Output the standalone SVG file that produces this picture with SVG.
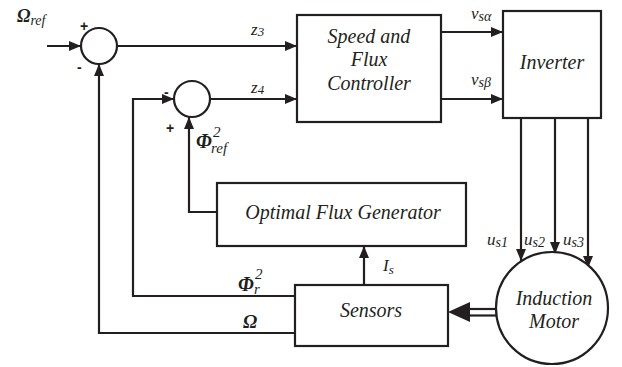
<svg xmlns="http://www.w3.org/2000/svg" width="622" height="367" viewBox="0 0 622 367">
<style>
svg text.s{font-family:"Liberation Serif",serif !important;font-style:italic !important}
svg text.sg{font-family:"Liberation Sans",sans-serif !important;font-style:normal !important}
</style>
<defs>
<marker id="ah" viewBox="0 0 12 10" refX="12" refY="5" markerWidth="12" markerHeight="10" markerUnits="userSpaceOnUse" orient="auto">
<path d="M0,0 L12,5 L0,10 Z" fill="#231f20"/>
</marker>
<marker id="big" viewBox="0 0 22 20" refX="0" refY="10" markerWidth="22" markerHeight="20" markerUnits="userSpaceOnUse" orient="auto">
<path d="M0,10 L22,0 L22,20 Z" fill="#231f20"/>
</marker>
</defs>

<g id="connectors" fill="none" stroke="#231f20" stroke-width="2.2">
<line x1="47" y1="46" x2="81" y2="46" marker-end="url(#ah)"/>
<line x1="117" y1="46" x2="297" y2="46" marker-end="url(#ah)"/>
<line x1="210" y1="99" x2="297" y2="99" marker-end="url(#ah)"/>
<polyline points="295,296 133,296 133,99 174,99" marker-end="url(#ah)"/>
<polyline points="295,333 99,333 99,64" marker-end="url(#ah)"/>
<polyline points="217,212 189,212 189,117" marker-end="url(#ah)"/>
<line x1="364" y1="285" x2="364" y2="246" marker-end="url(#ah)"/>
<line x1="442" y1="32" x2="503" y2="32" marker-end="url(#ah)"/>
<line x1="442" y1="99" x2="503" y2="99" marker-end="url(#ah)"/>
<line x1="521" y1="118" x2="521" y2="261" marker-end="url(#ah)"/>
<line x1="555" y1="118" x2="555" y2="254" marker-end="url(#ah)"/>
<line x1="588" y1="118" x2="588" y2="268" marker-end="url(#ah)"/>
<line x1="468" y1="309" x2="496" y2="309"/>
<line x1="468" y1="315.5" x2="496" y2="315.5"/>
<line x1="448" y1="312" x2="449" y2="312" stroke="none" marker-start="url(#big)"/>
</g>

<g id="sum1">
<circle cx="99" cy="46" r="18" fill="#fff" stroke="#231f20" stroke-width="2.2"/>
<text class="sg" font-family="Liberation Sans" font-weight="bold" font-size="14" fill="#231f20" x="80" y="31">+</text>
<text class="sg" font-family="Liberation Sans" font-weight="bold" font-size="14" fill="#231f20" x="77" y="72">-</text>
</g>
<g id="sum2">
<circle cx="192" cy="99" r="18" fill="#fff" stroke="#231f20" stroke-width="2.2"/>
<text class="sg" font-family="Liberation Sans" font-weight="bold" font-size="14" fill="#231f20" x="164" y="97">-</text>
<text class="sg" font-family="Liberation Sans" font-weight="bold" font-size="14" fill="#231f20" x="166" y="133">+</text>
</g>

<g id="controller">
<rect x="297" y="15" width="144" height="107" fill="#fff" stroke="#231f20" stroke-width="2.2"/>
<text class="s" font-family="Liberation Serif" font-style="italic" font-size="20" fill="#231f20" text-anchor="middle" x="369" y="43">Speed and</text>
<text class="s" font-family="Liberation Serif" font-style="italic" font-size="20" fill="#231f20" text-anchor="middle" x="369" y="66">Flux</text>
<text class="s" font-family="Liberation Serif" font-style="italic" font-size="20" fill="#231f20" text-anchor="middle" x="369" y="90">Controller</text>
</g>

<g id="inverter">
<rect x="503" y="11" width="98" height="107" fill="#fff" stroke="#231f20" stroke-width="2.2"/>
<text class="s" font-family="Liberation Serif" font-style="italic" font-size="20" fill="#231f20" text-anchor="middle" x="552" y="69">Inverter</text>
</g>

<g id="ofg">
<rect x="217" y="183" width="249" height="63" fill="#fff" stroke="#231f20" stroke-width="2.2"/>
<text class="s" font-family="Liberation Serif" font-style="italic" font-size="20" fill="#231f20" text-anchor="middle" x="343" y="219">Optimal Flux Generator</text>
</g>

<g id="sensors">
<rect x="295" y="285" width="153" height="61" fill="#fff" stroke="#231f20" stroke-width="2.2"/>
<text class="s" font-family="Liberation Serif" font-style="italic" font-size="20" fill="#231f20" text-anchor="middle" x="371" y="317">Sensors</text>
</g>

<g id="motor">
<circle cx="552" cy="308" r="56" fill="#fff" stroke="#231f20" stroke-width="2.2"/>
<text class="s" font-family="Liberation Serif" font-style="italic" font-size="20" fill="#231f20" text-anchor="middle" x="554" y="305">Induction</text>
<text class="s" font-family="Liberation Serif" font-style="italic" font-size="20" fill="#231f20" text-anchor="middle" x="554" y="328">Motor</text>
</g>

<g id="labels" fill="#231f20">
<text class="s" font-family="Liberation Serif" font-style="italic" x="17" y="22" font-size="18" font-weight="bold">Ω<tspan font-size="14" font-weight="normal" dy="3">ref</tspan></text>
<text class="s" font-family="Liberation Serif" font-style="italic" font-size="17" x="251" y="35">z<tspan font-size="13" dy="1">3</tspan></text>
<text class="s" font-family="Liberation Serif" font-style="italic" font-size="17" x="251" y="93">z<tspan font-size="13" dy="1">4</tspan></text>
<text class="s" font-family="Liberation Serif" font-style="italic" font-size="17" x="471" y="19">v<tspan font-size="14" dy="2">sα</tspan></text>
<text class="s" font-family="Liberation Serif" font-style="italic" font-size="17" x="471" y="85">v<tspan font-size="14" dy="2">sβ</tspan></text>
<text class="s" font-family="Liberation Serif" font-style="italic" x="196" y="148" font-size="20" font-weight="bold">Φ</text>
<text class="s" font-family="Liberation Serif" font-style="italic" x="213" y="137" font-size="15">2</text>
<text class="s" font-family="Liberation Serif" font-style="italic" x="211" y="153" font-size="15">ref</text>
<text class="s" font-family="Liberation Serif" font-style="italic" x="238" y="291" font-size="20" font-weight="bold">Φ</text>
<text class="s" font-family="Liberation Serif" font-style="italic" x="255" y="279" font-size="15">2</text>
<text class="s" font-family="Liberation Serif" font-style="italic" x="254" y="294" font-size="15">r</text>
<text class="s" font-family="Liberation Serif" font-style="italic" x="243" y="328" font-size="19" font-weight="bold">Ω</text>
<text class="s" font-family="Liberation Serif" font-style="italic" font-size="17" x="383" y="271">I<tspan font-size="13" dy="3">s</tspan></text>
<text class="s" font-family="Liberation Serif" font-style="italic" font-size="17" x="487" y="245">u<tspan font-size="14" dy="2">s1</tspan></text>
<text class="s" font-family="Liberation Serif" font-style="italic" font-size="17" x="524" y="245">u<tspan font-size="14" dy="2">s2</tspan></text>
<text class="s" font-family="Liberation Serif" font-style="italic" font-size="17" x="563" y="245">u<tspan font-size="14" dy="2">s3</tspan></text>
</g>
</svg>
